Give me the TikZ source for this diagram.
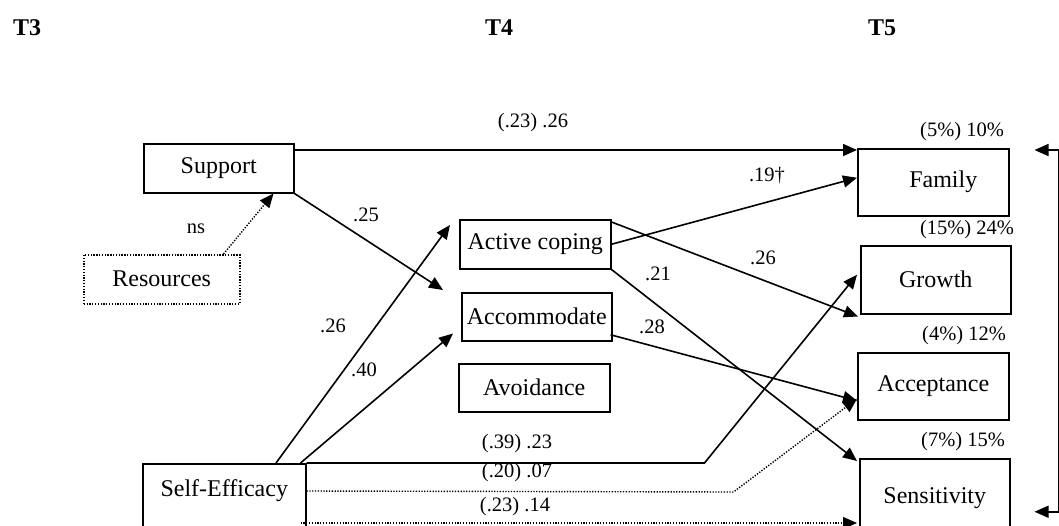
\documentclass[tikz,border=0pt]{standalone}
\usepackage{fontspec}
\setmainfont{Liberation Serif}
\usetikzlibrary{arrows.meta,calc}

\begin{document}
\begin{tikzpicture}[x=1pt,y=-1pt,
  box/.style={draw,line width=1.5pt,rectangle,anchor=north west,inner sep=0pt,
    font=\fontsize{24}{28}\selectfont},
  dotbox/.style={box,line width=1.5pt,dash pattern=on 1.3pt off 1.5pt},
  lbl/.style={font=\fontsize{20.5}{24}\selectfont,inner sep=0pt},
  hdr/.style={font=\fontsize{24}{28}\selectfont\bfseries,inner sep=0pt,anchor=west},
  arr/.style={line width=1.6pt,-{Triangle[length=14pt,width=12pt]}},
  dotarr/.style={arr,line width=1.4pt,dash pattern=on 1.3pt off 1.5pt},
  bothends/.style={line width=1.6pt,{Triangle[length=14pt,width=12pt]}-{Triangle[length=14pt,width=12pt]}}
]
\clip (0,0) rectangle (1059,525);

% time points
\node[hdr] (t3) at (13,27.5) {T3};
\node[hdr] (t4) at (485,27.5) {T4};
\node[hdr] (t5) at (868,27.5) {T5};

% T3 predictors
\node[box,minimum width=150pt,minimum height=49pt] (sup) at (143,143) {Support};
\node[dotbox,minimum width=156pt,minimum height=49pt] (res) at (83,254) {Resources};
\node[box,minimum width=163pt,minimum height=70pt,text height=17pt,text depth=21pt] (se) at (142,463) {Self-Efficacy};

% T4 coping
\node[box,minimum width=151pt,minimum height=49pt] (act) at (459,219) {Active coping};
\node[box,minimum width=150pt,minimum height=48pt] (acm) at (461,292) {Accommodate};
\node[box,minimum width=151pt,minimum height=48pt] (avo) at (458,363) {Avoidance};

% T5 outcomes
\node[box,minimum width=151pt,minimum height=67pt] (fam) at (857,148) {\hspace*{20pt}Family};
\node[box,minimum width=150pt,minimum height=68pt] (gro) at (860,245) {Growth};
\node[box,minimum width=151pt,minimum height=67pt] (acc) at (857,352) {Acceptance};
\node[box,minimum width=150pt,minimum height=78pt] (sen) at (859,458) {Sensitivity};

% explained variance
\node[lbl] (rfam) at (962,132) {(5\%) 10\%};
\node[lbl] (rgro) at (967,230) {(15\%) 24\%};
\node[lbl] (racc) at (964,336) {(4\%) 12\%};
\node[lbl] (rsen) at (963,442) {(7\%) 15\%};

% paths from T3
\draw[arr] ($(sup.north east)+(0,7)$) -- ($(fam.north west)+(0,2)$);
\draw[dotarr] ($(res.north east)+(-17,0)$) -- ($(sup.south east)+(-21,0)$);
\draw[arr] (sup.south east) -- ($(acm.north west)+(-18,-2)$);
\draw[arr] ($(se.north west)+(134,0)$) -- ($(act.north west)+(-9,6)$);
\draw[arr] ($(se.north east)+(-6,0)$) -- ($(acm.south west)+(-8,-8)$);
\draw[arr] (se.north east) -- ($(se.north east)+(398,0)$) -- ($(gro.west)+(-3,-5)$);
\draw[dotarr] ($(se.north east)+(0,28)$) -- ($(se.north east)+(427,29)$) -- ($(acc.west)+(0,12.5)$);
\draw[dotarr] ($(se.north east)+(-6,60)$) -- ($(sen.north west)+(-2,65)$);

% paths from T4
\draw[arr] (act.east) -- ($(fam.west)+(0,-4.5)$);
\draw[arr] ($(act.north east)+(0,3)$) -- ($(gro.south west)+(-2,2)$);
\draw[arr] (act.south east) -- ($(sen.north west)+(-2,3)$);
\draw[arr] ($(acm.east)+(-2,18)$) -- ($(acc.west)+(0,14.5)$);

% correlated outcomes
\draw[bothends] ($(fam.north east)+(25,2)$) -- ++(24,0) |- ($(sen.east)+(24,14)$);

% coefficients
\node[lbl] (c1) at (533,123) {(.23) .26};
\node[lbl] (c2) at (366,215) {.25};
\node[lbl] (c3) at (196,229) {ns};
\node[lbl] (c4) at (333,326) {.26};
\node[lbl] (c5) at (364,370) {.40};
\node[lbl] (c6) at (767,176) {.19†};
\node[lbl] (c7) at (763,258) {.26};
\node[lbl] (c8) at (658,274) {.21};
\node[lbl] (c9) at (652,327) {.28};
\node[lbl] (c10) at (517,444) {(.39) .23};
\node[lbl] (c11) at (517,473) {(.20) .07};
\node[lbl] (c12) at (515,507) {(.23) .14};
\end{tikzpicture}
\end{document}
